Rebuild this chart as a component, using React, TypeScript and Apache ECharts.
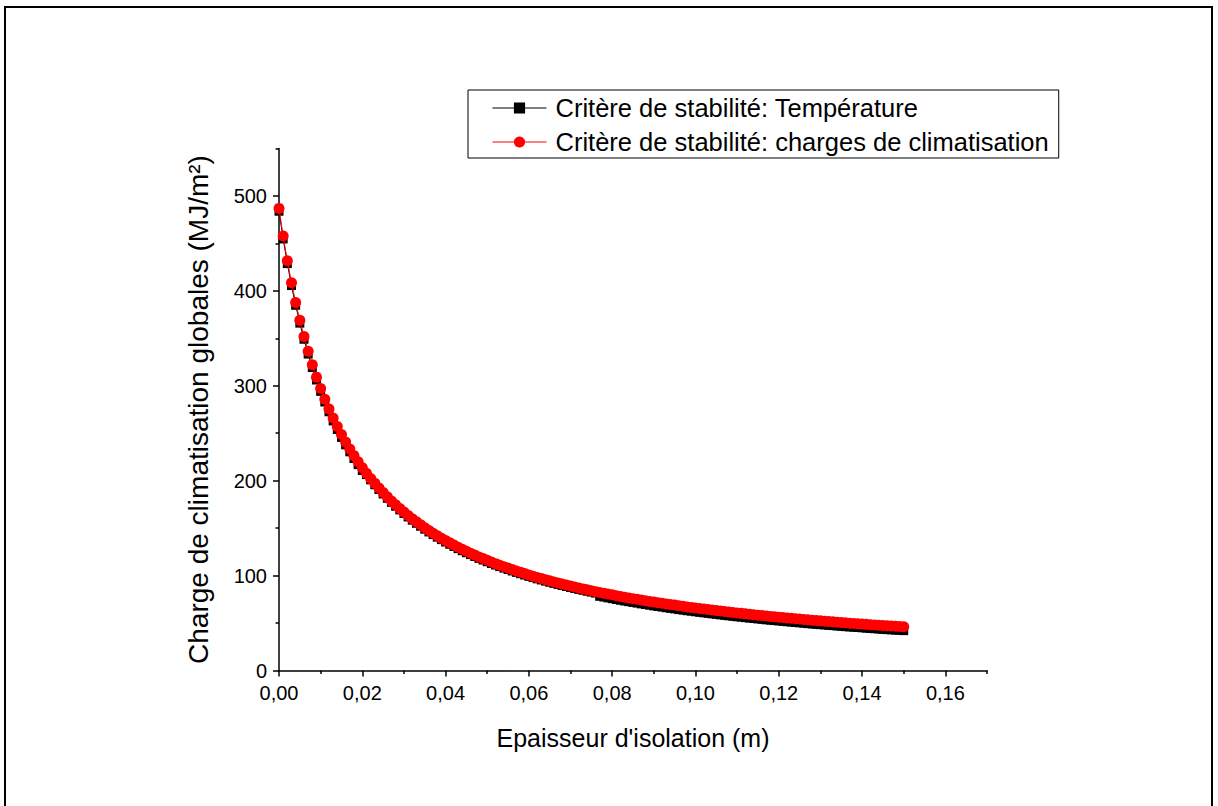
import React, { useEffect, useRef } from 'react';
import * as echarts from 'echarts';

// Epaisseur d'isolation (m)
const thickness = [
  0, 0.001, 0.002, 0.003, 0.004, 0.005, 0.006, 0.007, 0.008, 0.009,
  0.01, 0.011, 0.012, 0.013, 0.014, 0.015, 0.016, 0.017, 0.018, 0.019,
  0.02, 0.021, 0.022, 0.023, 0.024, 0.025, 0.026, 0.027, 0.028, 0.029,
  0.03, 0.031, 0.032, 0.033, 0.034, 0.035, 0.036, 0.037, 0.038, 0.039,
  0.04, 0.041, 0.042, 0.043, 0.044, 0.045, 0.046, 0.047, 0.048, 0.049,
  0.05, 0.051, 0.052, 0.053, 0.054, 0.055, 0.056, 0.057, 0.058, 0.059,
  0.06, 0.061, 0.062, 0.063, 0.064, 0.065, 0.066, 0.067, 0.068, 0.069,
  0.07, 0.071, 0.072, 0.073, 0.074, 0.075, 0.076, 0.077, 0.078, 0.079,
  0.08, 0.081, 0.082, 0.083, 0.084, 0.085, 0.086, 0.087, 0.088, 0.089,
  0.09, 0.091, 0.092, 0.093, 0.094, 0.095, 0.096, 0.097, 0.098, 0.099,
  0.1, 0.101, 0.102, 0.103, 0.104, 0.105, 0.106, 0.107, 0.108, 0.109,
  0.11, 0.111, 0.112, 0.113, 0.114, 0.115, 0.116, 0.117, 0.118, 0.119,
  0.12, 0.121, 0.122, 0.123, 0.124, 0.125, 0.126, 0.127, 0.128, 0.129,
  0.13, 0.131, 0.132, 0.133, 0.134, 0.135, 0.136, 0.137, 0.138, 0.139,
  0.14, 0.141, 0.142, 0.143, 0.144, 0.145, 0.146, 0.147, 0.148, 0.149,
  0.15,
];

// Critère de stabilité: Température
const chargeTemperature = [
  483.9, 454.7, 428.7, 405.6, 384.8, 366.0, 349.0, 333.4, 319.2, 306.1,
  294.1, 282.9, 272.6, 263.0, 254.0, 245.6, 237.8, 230.4, 223.4, 216.9,
  210.7, 206.4, 200.9, 195.7, 190.7, 186.0, 181.5, 177.2, 173.1, 169.2,
  165.4, 161.8, 158.4, 155.1, 152.0, 148.9, 146.0, 143.2, 140.5, 137.9,
  135.4, 133.0, 130.7, 128.4, 126.2, 124.1, 122.1, 120.1, 118.2, 116.4,
  114.6, 112.8, 111.1, 109.5, 107.9, 106.4, 104.9, 103.4, 102.0, 100.6,
  99.2, 97.9, 96.6, 95.4, 94.2, 93.0, 91.8, 90.7, 89.6, 88.5,
  87.5, 86.4, 85.4, 84.5, 83.5, 82.6, 81.6, 78.2, 77.4, 76.5,
  75.7, 74.8, 74.0, 73.2, 72.5, 71.7, 71.0, 70.2, 69.5, 68.8,
  68.1, 67.4, 66.8, 66.1, 65.5, 64.9, 64.2, 63.6, 63.0, 62.5,
  61.9, 61.3, 60.8, 60.2, 59.7, 59.2, 58.6, 58.1, 57.6, 57.1,
  56.6, 56.2, 55.7, 55.2, 54.8, 54.3, 53.9, 53.4, 53.0, 52.6,
  52.2, 51.8, 51.4, 51.0, 50.6, 50.2, 49.8, 49.4, 49.0, 48.7,
  48.3, 48.0, 47.6, 47.3, 46.9, 46.6, 46.2, 45.9, 45.6, 45.3,
  45.0, 44.6, 44.3, 44.0, 43.7, 43.4, 43.1, 42.8, 42.6, 42.3,
  42.0,
];

// Critère de stabilité: charges de climatisation
const chargeClimatisation = [
  486.9, 457.7, 431.7, 408.6, 387.8, 369.0, 352.0, 336.4, 322.2, 309.1,
  297.1, 285.9, 275.6, 266.0, 257.0, 248.6, 240.8, 233.4, 226.4, 219.9,
  213.7, 207.9, 202.4, 197.2, 192.2, 187.5, 183.0, 178.7, 174.6, 170.7,
  166.9, 163.3, 159.9, 156.6, 153.5, 150.4, 147.5, 144.7, 142.0, 139.4,
  136.9, 134.5, 132.2, 129.9, 127.7, 125.6, 123.6, 121.6, 119.7, 117.9,
  116.1, 114.3, 112.6, 111.0, 109.4, 107.9, 106.4, 104.9, 103.5, 102.1,
  100.7, 99.4, 98.1, 96.9, 95.7, 94.5, 93.3, 92.2, 91.1, 90.0,
  89.0, 87.9, 86.9, 86.0, 85.0, 84.1, 83.1, 82.2, 81.4, 80.5,
  79.7, 78.8, 78.0, 77.2, 76.5, 75.7, 75.0, 74.2, 73.5, 72.8,
  72.1, 71.4, 70.8, 70.1, 69.5, 68.9, 68.2, 67.6, 67.0, 66.5,
  65.9, 65.3, 64.8, 64.2, 63.7, 63.2, 62.6, 62.1, 61.6, 61.1,
  60.6, 60.2, 59.7, 59.2, 58.8, 58.3, 57.9, 57.4, 57.0, 56.6,
  56.2, 55.8, 55.4, 55.0, 54.6, 54.2, 53.8, 53.4, 53.0, 52.7,
  52.3, 52.0, 51.6, 51.3, 50.9, 50.6, 50.2, 49.9, 49.6, 49.3,
  49.0, 48.6, 48.3, 48.0, 47.7, 47.4, 47.1, 46.8, 46.6, 46.3,
  46.0,
];

const xMajorTicks = [0, 0.02, 0.04, 0.06, 0.08, 0.1, 0.12, 0.14, 0.16];
const xMinorTicks = [0.01, 0.03, 0.05, 0.07, 0.09, 0.11, 0.13, 0.15, 0.17];
const yMajorTicks = [0, 100, 200, 300, 400, 500];
const yMinorTicks = [50, 150, 250, 350, 450, 550];

const seriesNames = [
  'Critère de stabilité: Température',
  'Critère de stabilité: charges de climatisation',
];

const FONT = 'Liberation Sans';

export default function App() {
  const ref = useRef<HTMLDivElement>(null);

  useEffect(() => {
    if (!ref.current) return;
    const chart = echarts.init(ref.current, undefined, { renderer: 'svg' });
    const fmtX = (v: number) => v.toFixed(2).replace('.', ',');
    const axisColor = '#000';

    const gridPos = { left: 279, top: 148.5, width: 708, height: 522 };

    chart.setOption({
      animation: false,
      backgroundColor: '#fff',
      textStyle: { fontFamily: FONT, color: '#000' },
      grid: { ...gridPos, containLabel: false },
      xAxis: [
        {
          type: 'value',
          min: 0,
          max: 0.17,
          name: "Epaisseur d'isolation (m)",
          nameLocation: 'middle',
          nameGap: 55,
          nameTextStyle: { fontSize: 25, color: '#000', fontFamily: FONT },
          axisLine: { onZero: false, lineStyle: { color: axisColor, width: 1.5 } },
          axisTick: { show: true, length: 6, customValues: xMajorTicks, lineStyle: { color: axisColor, width: 1.5 } },
          axisLabel: { color: '#000', fontSize: 20, margin: 12, fontFamily: FONT, customValues: xMajorTicks, formatter: fmtX },
          splitLine: { show: false },
        },
        {
          type: 'value',
          min: 0,
          max: 0.17,
          position: 'bottom',
          axisLine: { show: false },
          axisTick: { show: true, length: 3.5, customValues: xMinorTicks, lineStyle: { color: axisColor, width: 1.5 } },
          axisLabel: { show: false },
          splitLine: { show: false },
        },
      ],
      yAxis: [
        {
          type: 'value',
          min: 0,
          max: 550,
          name: 'Charge de climatisation globales (MJ/m²)',
          nameLocation: 'middle',
          nameGap: 67,
          nameTextStyle: { fontSize: 28, color: '#000', fontFamily: FONT },
          axisLine: { onZero: false, lineStyle: { color: axisColor, width: 1.5 } },
          axisTick: { show: true, length: 6, customValues: yMajorTicks, lineStyle: { color: axisColor, width: 1.5 } },
          axisLabel: { color: '#000', fontSize: 20, margin: 12, fontFamily: FONT, customValues: yMajorTicks },
          splitLine: { show: false },
        },
        {
          type: 'value',
          min: 0,
          max: 550,
          position: 'left',
          axisLine: { show: false },
          axisTick: { show: true, length: 3.5, customValues: yMinorTicks, lineStyle: { color: axisColor, width: 1.5 } },
          axisLabel: { show: false },
          splitLine: { show: false },
        },
      ],
      legend: {
        orient: 'vertical',
        left: 468,
        top: 90,
        backgroundColor: '#fff',
        borderColor: '#000',
        borderWidth: 1,
        padding: [5, 10, 3, 24],
        itemGap: 8,
        itemWidth: 54,
        itemHeight: 14,
        lineStyle: { width: 1 },
        textStyle: { fontSize: 25.5, color: '#000', fontFamily: FONT, padding: [0, 0, 0, 4] },
        data: seriesNames,
      },
      series: [
        {
          name: seriesNames[0],
          type: 'line',
          xAxisIndex: 0,
          yAxisIndex: 0,
          data: thickness.map((x, i) => [x, chargeTemperature[i]]),
          symbol: 'rect',
          symbolSize: 9,
          showAllSymbol: true,
          itemStyle: { color: '#000' },
          lineStyle: { color: '#000', width: 1 },
          clip: false,
          z: 2,
        },
        {
          name: seriesNames[1],
          type: 'line',
          xAxisIndex: 0,
          yAxisIndex: 0,
          data: thickness.map((x, i) => [x, chargeClimatisation[i]]),
          symbol: 'circle',
          symbolSize: 11,
          showAllSymbol: true,
          itemStyle: { color: '#ff0000' },
          lineStyle: { color: '#ff0000', width: 1 },
          clip: false,
          z: 3,
        },
      ],
      graphic: [
        {
          type: 'rect',
          silent: true,
          shape: { x: 5, y: 7, width: 1207, height: 830 },
          style: { fill: 'none', stroke: '#000', lineWidth: 2 },
        },
      ],
    });

    return () => chart.dispose();
  }, []);

  return (
    <div
      ref={ref}
      style={{ position: 'fixed', left: 0, top: 0, width: 1218, height: 806 }}
    />
  );
}
